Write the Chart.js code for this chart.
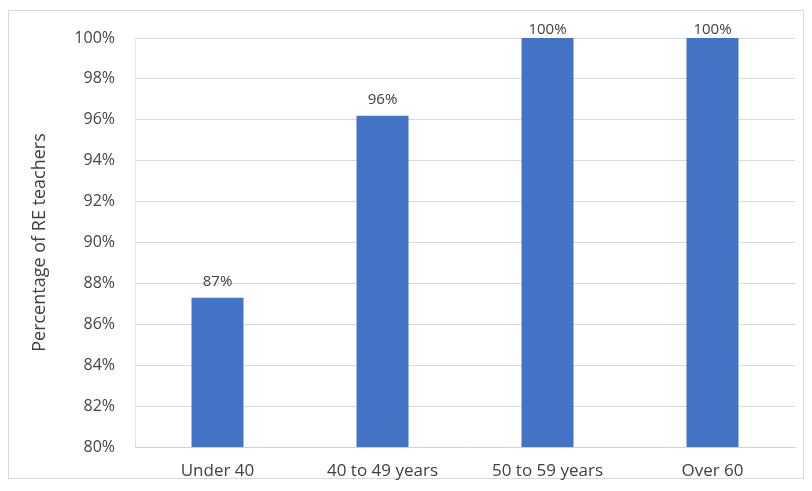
<!DOCTYPE html>
<html>
<head>
<meta charset="utf-8">
<script src="https://cdn.jsdelivr.net/npm/chart.js@4/dist/chart.umd.min.js"></script>
<style>
  html, body { margin: 0; padding: 0; background: #ffffff; }
  #wrap { position: relative; width: 812px; height: 491px; }
  #frame { position: absolute; left: 8px; top: 10px; width: 796px; height: 469px; border: 1px solid #d9d9d9; box-sizing: border-box; }
  canvas { position: absolute; left: 0; top: 0; }
</style>
</head>
<body>
<div id="wrap">
  <div id="frame"></div>
  <canvas id="c" width="812" height="491"></canvas>
</div>
<script>
const categories = ["Under 40", "40 to 49 years", "50 to 59 years", "Over 60"];
const values = [87.3, 96.2, 100, 100];
const valueLabels = ["87%", "96%", "100%", "100%"];
const yTickMin = 80;
const yTickMax = 100;
const yTickStep = 2;

const FONT = '"Open Sans", sans-serif';

const labelPlugin = {
  id: 'barLabels',
  afterDatasetsDraw(chart) {
    const ctx = chart.ctx;
    const meta = chart.getDatasetMeta(0);
    ctx.save();
    ctx.font = '15px ' + FONT;
    ctx.fillStyle = '#404040';
    ctx.textAlign = 'center';
    ctx.textBaseline = 'alphabetic';
    meta.data.forEach((bar, i) => {
      const y = Math.max(bar.y - 12, 34);
      ctx.fillText(valueLabels[i], bar.x, y);
    });
    ctx.restore();
  }
};

new Chart(document.getElementById('c'), {
  type: 'bar',
  data: {
    labels: categories,
    datasets: [{
      data: values,
      backgroundColor: '#4472C4',
      borderWidth: 0,
      barPercentage: 0.315,
      categoryPercentage: 1.0
    }]
  },
  options: {
    responsive: false,
    animation: false,
    events: [],
    layout: { padding: { left: 29, right: 17, top: 38, bottom: 0 } },
    plugins: { legend: { display: false }, tooltip: { enabled: false } },
    scales: {
      y: {
        min: yTickMin,
        max: yTickMax,
        ticks: {
          stepSize: yTickStep,
          padding: 20,
          color: '#454545',
          font: { family: FONT, size: 16 },
          callback: v => v + '%'
        },
        grid: { color: '#d9d9d9', drawTicks: false },
        border: { display: true, color: '#e6e6e6' },
        title: {
          display: true,
          text: 'Percentage of RE teachers',
          color: '#404040',
          font: { family: FONT, size: 18 },
          padding: 0
        },
        afterFit(s) { s.width = 106; }
      },
      x: {
        ticks: {
          padding: 14,
          color: '#404040',
          font: { family: FONT, size: 17 }
        },
        grid: { display: false, drawTicks: false },
        border: { display: true, color: '#d0d0d0' },
        afterFit(s) { s.height = 44; }
      }
    }
  },
  plugins: [labelPlugin]
});
</script>
</body>
</html>
